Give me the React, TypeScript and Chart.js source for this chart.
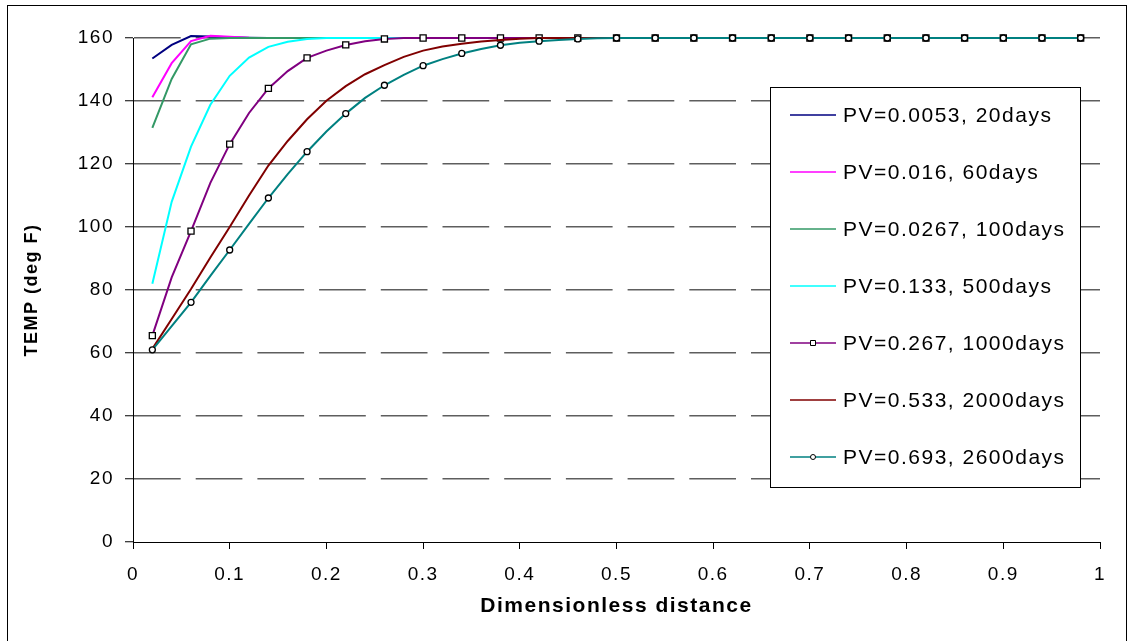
import React, { useEffect, useRef } from 'react';
import { Chart, registerables } from 'chart.js';

Chart.register(...registerables);

// ---------- data ----------
const DIST = [
  0.02, 0.04, 0.06, 0.08, 0.1, 0.12, 0.14, 0.16, 0.18, 0.2,
  0.22, 0.24, 0.26, 0.28, 0.3, 0.32, 0.34, 0.36, 0.38, 0.4,
  0.42, 0.44, 0.46, 0.48, 0.5, 0.52, 0.54, 0.56, 0.58, 0.6,
  0.62, 0.64, 0.66, 0.68, 0.7, 0.72, 0.74, 0.76, 0.78, 0.8,
  0.82, 0.84, 0.86, 0.88, 0.9, 0.92, 0.94, 0.96, 0.98,
];

const SERIES_LABELS = [
  'PV=0.0053, 20days',
  'PV=0.016, 60days',
  'PV=0.0267, 100days',
  'PV=0.133, 500days',
  'PV=0.267, 1000days',
  'PV=0.533, 2000days',
  'PV=0.693, 2600days',
];

const PV_0053 = [
  153.5, 157.8, 160.6, 160.5, 160.2, 160.1,
  160, 160, 160, 160, 160, 160, 160, 160, 160, 160,
  160, 160, 160, 160, 160, 160, 160, 160, 160, 160,
  160, 160, 160, 160, 160, 160, 160, 160, 160, 160,
  160, 160, 160, 160, 160, 160, 160, 160, 160, 160,
  160, 160, 160,
];
const PV_016 = [
  141.2, 152, 159, 160.7, 160.4, 160.1,
  160, 160, 160, 160, 160, 160, 160, 160, 160, 160,
  160, 160, 160, 160, 160, 160, 160, 160, 160, 160,
  160, 160, 160, 160, 160, 160, 160, 160, 160, 160,
  160, 160, 160, 160, 160, 160, 160, 160, 160, 160,
  160, 160, 160,
];
const PV_0267 = [
  131.5, 147, 158, 159.8, 160, 160,
  160, 160, 160, 160, 160, 160, 160, 160, 160, 160,
  160, 160, 160, 160, 160, 160, 160, 160, 160, 160,
  160, 160, 160, 160, 160, 160, 160, 160, 160, 160,
  160, 160, 160, 160, 160, 160, 160, 160, 160, 160,
  160, 160, 160,
];
const PV_133 = [
  82, 108, 125.5, 138.8, 148, 153.8, 157.2, 158.8, 159.7, 160,
  160, 160, 160, 160, 160, 160, 160, 160, 160, 160,
  160, 160, 160, 160, 160, 160, 160, 160, 160, 160,
  160, 160, 160, 160, 160, 160, 160, 160, 160, 160,
  160, 160, 160, 160, 160, 160, 160, 160, 160,
];
const PV_267 = [
  65.5, 84, 98.7, 114, 126.3, 136.2, 144, 149.5, 153.7, 156,
  157.8, 159, 159.7, 160, 160, 160, 160, 160, 160, 160,
  160, 160, 160, 160, 160, 160, 160, 160, 160, 160,
  160, 160, 160, 160, 160, 160, 160, 160, 160, 160,
  160, 160, 160, 160, 160, 160, 160, 160, 160,
];
const PV_533 = [
  61.3, 70.8, 80.3, 90.3, 100, 110, 119.5, 127.3, 134.2, 140.1,
  144.7, 148.5, 151.4, 154, 156, 157.3, 158.2, 158.9, 159.4, 159.8,
  160, 160, 160, 160, 160, 160, 160, 160, 160, 160,
  160, 160, 160, 160, 160, 160, 160, 160, 160, 160,
  160, 160, 160, 160, 160, 160, 160, 160, 160,
];
const PV_693 = [
  61, 68.5, 76.1, 84.5, 92.7, 101, 109.2, 116.8, 123.9, 130.3,
  136, 141, 145, 148.3, 151.2, 153.3, 155.1, 156.5, 157.7, 158.5,
  159, 159.4, 159.7, 159.9, 160, 160, 160, 160, 160, 160,
  160, 160, 160, 160, 160, 160, 160, 160, 160, 160,
  160, 160, 160, 160, 160, 160, 160, 160, 160,
];

const X_MIN = 0;
const X_MAX = 1;
const X_STEP = 0.1;
const Y_MIN = 0;
const Y_MAX = 160;
const Y_STEP = 20;
const X_TITLE = 'Dimensionless distance';
const Y_TITLE = 'TEMP (deg F)';

// ---------- style ----------
const COLORS = ['#000080', '#ff00ff', '#339966', '#00ffff', '#800080', '#800000', '#008080'];
const MARKERS: (string | null)[] = [null, null, null, null, 'rect', null, 'circle'];
const FONT = '"Liberation Sans", Arial, Helvetica, sans-serif';
const LETTER_SPACING = '1.5px';

const W = 1132;
const H = 641;

const spacingPlugin = {
  id: 'letterSpacing',
  beforeLayout(chart: any) {
    chart.ctx.letterSpacing = LETTER_SPACING;
  },
  beforeDraw(chart: any) {
    chart.ctx.letterSpacing = LETTER_SPACING;
  },
};

const framePlugin = {
  id: 'frame',
  beforeDraw(chart: any) {
    const ctx = chart.ctx;
    ctx.save();
    ctx.fillStyle = '#ffffff';
    ctx.fillRect(0, 0, W, H);
    ctx.strokeStyle = '#000000';
    ctx.lineWidth = 1;
    ctx.strokeRect(7.5, 5.5, 1119, 700);
    ctx.restore();
  },
};

const legendPlugin = {
  id: 'boxLegend',
  afterDraw(chart: any) {
    const ctx = chart.ctx;
    ctx.save();
    ctx.fillStyle = '#ffffff';
    ctx.fillRect(771, 88, 309, 399);
    ctx.strokeStyle = '#000000';
    ctx.lineWidth = 1;
    ctx.strokeRect(770.5, 87.5, 310, 400);
    chart.data.datasets.forEach((ds: any, i: number) => {
      const y = 115 + i * 57;
      ctx.strokeStyle = ds.borderColor;
      ctx.lineWidth = 1.5;
      ctx.beginPath();
      ctx.moveTo(790, y);
      ctx.lineTo(836, y);
      ctx.stroke();
      const m = MARKERS[i];
      if (m) {
        ctx.fillStyle = '#ffffff';
        ctx.strokeStyle = '#000000';
        ctx.lineWidth = 1;
        ctx.beginPath();
        if (m === 'rect') {
          ctx.rect(810.5, y - 2.5, 5, 5);
        } else {
          ctx.arc(813, y, 2.5, 0, Math.PI * 2);
        }
        ctx.fill();
        ctx.stroke();
      }
      ctx.fillStyle = '#000000';
      ctx.font = `21px ${FONT}`;
      ctx.letterSpacing = LETTER_SPACING;
      ctx.textAlign = 'left';
      ctx.textBaseline = 'middle';
      ctx.fillText(ds.label, 843, y + 1);
    });
    ctx.restore();
  },
};

export default function App() {
  const ref = useRef<HTMLCanvasElement>(null);

  useEffect(() => {
    const canvas = ref.current;
    if (!canvas) return;
    const series = [PV_0053, PV_016, PV_0267, PV_133, PV_267, PV_533, PV_693];
    const datasets = series.map((vals, i) => {
      const m = MARKERS[i];
      const r = m === 'rect' ? 4.3 : 3;
      return {
        label: SERIES_LABELS[i],
        data: vals.map((v, j) => ({ x: DIST[j], y: v })),
        borderColor: COLORS[i],
        backgroundColor: COLORS[i],
        borderWidth: 2,
        tension: 0,
        pointStyle: (m || 'circle') as any,
        pointRadius: m ? vals.map((_, j) => (j % 2 === 0 ? r : 0)) : 0,
        pointHoverRadius: 0,
        pointBackgroundColor: '#ffffff',
        pointBorderColor: '#000000',
        pointBorderWidth: 1.3,
        clip: false as any,
        order: 10 - i,
      };
    });

    const chart = new Chart(canvas, {
      type: 'line',
      data: { datasets: datasets as any },
      options: {
        responsive: false,
        animation: false,
        events: [],
        layout: { padding: { top: 38, right: 32, left: 0, bottom: 0 } },
        plugins: {
          legend: { display: false },
          tooltip: { enabled: false },
        },
        scales: {
          x: {
            type: 'linear',
            min: X_MIN,
            max: X_MAX,
            ticks: {
              stepSize: X_STEP,
              color: '#000000',
              font: { family: FONT, size: 19 },
              padding: 14,
              maxRotation: 0,
              autoSkip: false,
              callback: (v: any) => String(Number(Number(v).toFixed(1))),
            },
            grid: {
              drawOnChartArea: false,
              drawTicks: true,
              tickLength: 7,
              tickColor: '#000000',
              tickWidth: 1,
            },
            border: { display: true, color: '#000000', width: 1 },
            title: {
              display: true,
              text: X_TITLE,
              color: '#000000',
              font: { family: FONT, size: 21, weight: 'bold' },
              padding: { top: 0, bottom: 22 },
            },
            afterFit: (s: any) => {
              s.height = 99;
            },
          },
          y: {
            type: 'linear',
            min: Y_MIN,
            max: Y_MAX,
            ticks: {
              stepSize: Y_STEP,
              color: '#000000',
              font: { family: FONT, size: 19 },
              padding: 11,
            },
            grid: {
              color: (c: any) => (c.tick && c.tick.value === 0 ? 'rgba(0,0,0,0)' : '#5e5e5e'),
              lineWidth: 1.5,
              drawTicks: true,
              tickLength: 8,
              tickColor: '#000000',
              tickWidth: 1,
            },
            border: { display: true, color: '#000000', width: 1, dash: [46.7, 15], dashOffset: 0 },
            title: {
              display: true,
              text: Y_TITLE,
              color: '#000000',
              font: { family: FONT, size: 18, weight: 'bold' },
              padding: { top: 21, bottom: 0 },
            },
            afterFit: (s: any) => {
              s.width = 133;
            },
          },
        },
      },
      plugins: [spacingPlugin, framePlugin, legendPlugin],
    });

    return () => {
      chart.destroy();
    };
  }, []);

  return (
    <div style={{ position: 'fixed', left: 0, top: 0, width: W, height: H, background: '#fff' }}>
      <canvas ref={ref} width={W} height={H} style={{ display: 'block', width: W, height: H }} />
    </div>
  );
}
